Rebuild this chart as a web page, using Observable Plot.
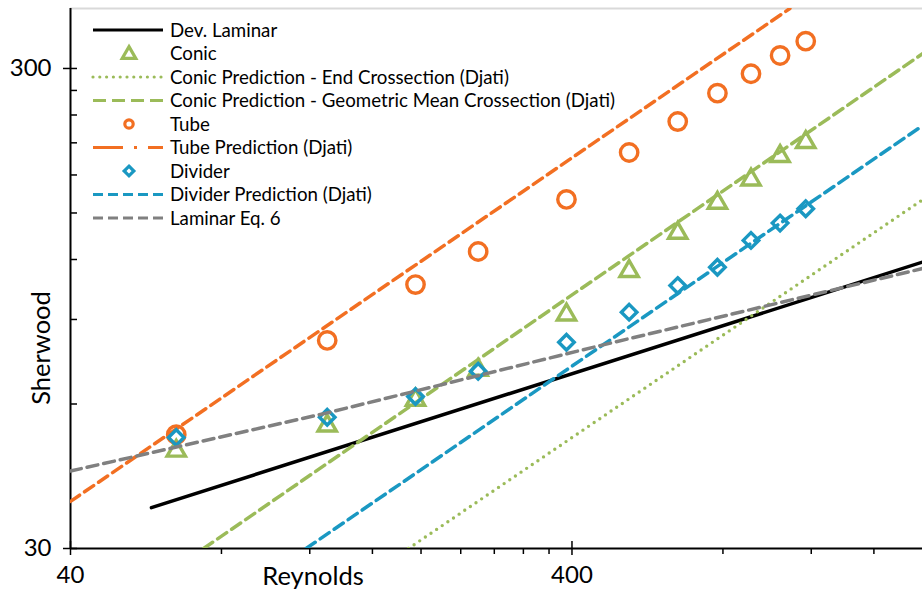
<!DOCTYPE html>
<html>
<head>
<meta charset="utf-8">
<script src="https://cdn.jsdelivr.net/npm/d3@7"></script>
<script src="https://cdn.jsdelivr.net/npm/@observablehq/plot@0.6"></script>
<style>
  body { margin: 0; background: #fff; }
  #chart svg { display: block; }
</style>
</head>
<body>
<div id="chart"></div>
<script>
// Measured Sherwood numbers at each Reynolds number
const reynolds  = [65, 130, 195, 260, 390, 520, 650, 780, 910, 1040, 1170];
const tubeSh    = [51.8, 81.4, 106.4, 124.7, 160.1, 200.5, 232.6, 266.5, 292.5, 319.3, 342];
const conicSh   = [48.5, 54.7, 61.9, 71.5, 93.2, 114.8, 137.9, 159.3, 178.1, 199.3, 213.1];
const dividerSh = [51.1, 56.3, 62.2, 70.2, 80.7, 93.2, 105.9, 115.6, 131.5, 142.9, 153.1];

// Correlation curves, as [Re, Sh] pairs
const devLaminar      = [[58, 36.5], [2000, 118.5]];
const conicPredEnd    = [[188.8, 30], [2000, 159.8]];
const conicPredMean   = [[73.7, 30], [2000, 322]];
const tubePred        = [[40, 37.6], [1088, 400]];
const dividerPred     = [[118, 30], [2000, 228]];
const laminarEq6      = [[40, 43.5], [130, 57.5], [455, 79.4], [2000, 114.9]];

// Axis ticks
const xMajor = [40, 400];
const xMinor = [80, 120, 160, 200, 240, 280, 320, 360, 800, 1200, 1600];
const yMajor = [30, 300];
const yMinor = [60, 90, 120, 150, 180, 210, 240, 270];

const ORANGE = "#f26f22";
const GREEN  = "#9bbb59";
const BLUE   = "#1a98c2";
const GRAY   = "#808080";

const pts = ys => reynolds.map((re, i) => ({re, sh: ys[i]}));
const line = (pairs, opts) => Plot.line(pairs, {x: d => d[0], y: d => d[1], clip: true, strokeWidth: 3.5, ...opts});
const blank = () => "";

const chart = Plot.plot({
  width: 922,
  height: 592,
  marginLeft: 70,
  marginRight: 0,
  marginTop: 8,
  marginBottom: 44,
  style: {fontFamily: "Lato, sans-serif", background: "#fff", color: "#000"},
  x: {type: "log", domain: [40, 2000], axis: null},
  y: {type: "log", domain: [30, 400], axis: null},
  marks: [
    // plot-area border and axis lines
    Plot.ruleY([400], {stroke: "#d9d9d9", strokeWidth: 2}),
    Plot.ruleY([30], {stroke: "#000", strokeWidth: 2}),
    Plot.ruleX([40], {stroke: "#000", strokeWidth: 2}),

    // x axis: minor ticks outward, major ticks crossing the line
    Plot.axisX(xMinor, {tickSize: 6, tickFormat: blank, strokeWidth: 1.5, label: null}),
    Plot.axisX(xMajor, {tickSize: 14, dy: -7, tickFormat: blank, strokeWidth: 1.5, label: null}),
    Plot.axisX(xMajor, {tickSize: 0, tickPadding: 17, fontSize: 24, tickFormat: d => String(d), label: null}),

    // y axis: minor ticks inward, major ticks crossing the line
    Plot.axisY(yMinor, {tickSize: 7, dx: 7, tickFormat: blank, strokeWidth: 1.5, label: null}),
    Plot.axisY(yMajor, {tickSize: 14, dx: 7, tickFormat: blank, strokeWidth: 1.5, label: null}),
    Plot.axisY(yMajor, {tickSize: 0, tickPadding: 19, fontSize: 24, tickFormat: d => String(d), label: null}),

    // series, in legend order
    line(devLaminar, {stroke: "#000"}),
    Plot.dot(pts(conicSh), {x: "re", y: "sh", symbol: "triangle", r: 6.8, dy: 2.5, stroke: GREEN, strokeWidth: 3.4, fill: "none"}),
    line(conicPredEnd, {stroke: GREEN, strokeDasharray: "0,6.8", strokeLinecap: "round", strokeWidth: 3.4}),
    line(conicPredMean, {stroke: GREEN, strokeDasharray: "11,6"}),
    Plot.dot(pts(tubeSh), {x: "re", y: "sh", symbol: "circle", r: 8.7, stroke: ORANGE, strokeWidth: 3.4, fill: "none"}),
    line(tubePred, {stroke: ORANGE, strokeDasharray: "11,6"}),
    Plot.dot(pts(dividerSh), {x: "re", y: "sh", symbol: "diamond2", r: 7, stroke: BLUE, strokeWidth: 3.4, fill: "none"}),
    line(dividerPred, {stroke: BLUE, strokeDasharray: "11,6"}),
    line(laminarEq6, {stroke: GRAY, strokeDasharray: "11,6"})
  ]
});

document.getElementById("chart").appendChild(chart);

const svg = d3.select(chart);

// Axis titles
svg.append("text")
  .attr("x", 313).attr("y", 576).attr("dy", "0.35em")
  .attr("text-anchor", "middle").attr("font-size", 25.5).attr("fill", "#000")
  .text("Reynolds");
svg.append("text")
  .attr("transform", "translate(41,348) rotate(-90)").attr("dy", "0.35em")
  .attr("text-anchor", "middle").attr("font-size", 25.5).attr("fill", "#000")
  .text("Sherwood");

// Legend inside the plot area, top-left
const legendItems = [
  {label: "Dev. Laminar", type: "line", stroke: "#000"},
  {label: "Conic", type: "triangle", stroke: GREEN},
  {label: "Conic Prediction - End Crossection (Djati)", type: "line", stroke: GREEN, dash: "0,6.8", cap: "round"},
  {label: "Conic Prediction - Geometric Mean Crossection (Djati)", type: "line", stroke: GREEN, dash: "13,6"},
  {label: "Tube", type: "circle", stroke: ORANGE},
  {label: "Tube Prediction (Djati)", type: "line", stroke: ORANGE, dash: "30,11,3,11,15"},
  {label: "Divider", type: "diamond", stroke: BLUE},
  {label: "Divider Prediction (Djati)", type: "line", stroke: BLUE, dash: "10,5"},
  {label: "Laminar Eq. 6", type: "line", stroke: GRAY, dash: "10,5"}
];

const legend = svg.append("g").attr("class", "legend");
legendItems.forEach((item, i) => {
  const g = legend.append("g").attr("transform", `translate(0,${30 + i * 23.5})`);
  if (item.type === "line") {
    g.append("line")
      .attr("x1", 93).attr("x2", 163).attr("y1", 0).attr("y2", 0)
      .attr("stroke", item.stroke).attr("stroke-width", 3.2)
      .attr("stroke-dasharray", item.dash || null)
      .attr("stroke-linecap", item.cap || "butt");
  } else {
    const sym = {triangle: d3.symbolTriangle, circle: d3.symbolCircle, diamond: d3.symbolDiamond2}[item.type];
    const size = {triangle: 80, circle: 55, diamond: 60}[item.type];
    g.append("path")
      .attr("d", d3.symbol(sym, size)())
      .attr("transform", `translate(129,${item.type === "triangle" ? 1 : 0})`)
      .attr("fill", "none").attr("stroke", item.stroke).attr("stroke-width", 3.2);
  }
  g.append("text")
    .attr("x", 170).attr("y", 0).attr("dy", "0.35em")
    .attr("text-anchor", "start")
    .attr("font-size", 18.7).attr("fill", "#000")
    .text(item.label);
});
</script>
</body>
</html>
